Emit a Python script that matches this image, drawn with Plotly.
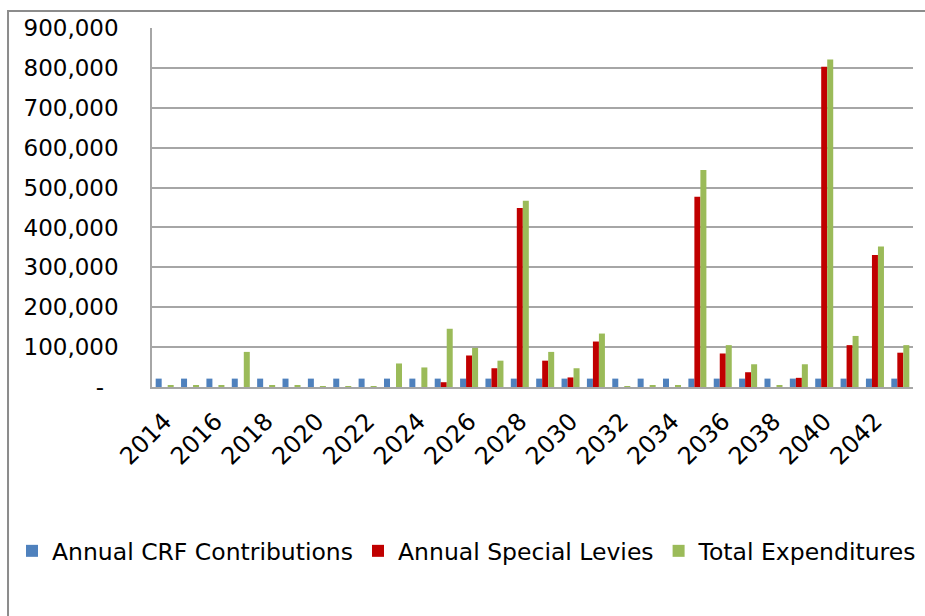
import plotly.graph_objects as go

# Reserve fund projection, 2014-2043
years = list(range(2014, 2044))

crf_contributions = [
    21000, 21000, 21000, 21000, 21000, 21000, 21000, 21000, 21000, 21000,
    21000, 21000, 21000, 21000, 21000, 21000, 21000, 21000, 21000, 21000,
    21000, 21000, 21000, 21000, 21000, 21000, 21000, 21000, 21000, 21000,
]

special_levies = [
    0, 0, 0, 0, 0, 0, 0, 0, 0, 0,
    0, 12000, 79000, 47000, 449000, 66000, 24000, 114000, 0, 0,
    0, 477000, 84000, 37000, 0, 23000, 803000, 105000, 331000, 86000,
]

total_expenditures = [
    3000, 3000, 3000, 88000, 3000, 3000, 2000, 2000, 2000, 59000,
    49000, 146000, 98000, 66000, 467000, 88000, 47000, 134000, 2000, 3000,
    3000, 544000, 105000, 57000, 3000, 57000, 821000, 128000, 352000, 105000,
]

x_tick_years = list(range(2014, 2043, 2))
x_tick_text = [str(y) for y in x_tick_years]

y_tick_vals = [0, 100000, 200000, 300000, 400000, 500000, 600000, 700000, 800000, 900000]
y_tick_text = ["-\u00a0\u00a0", "100,000", "200,000", "300,000", "400,000",
               "500,000", "600,000", "700,000", "800,000", "900,000"]

FONT = "DejaVu Sans"
GRID = "#a6a6a6"

fig = go.Figure()
fig.add_trace(go.Bar(x=years, y=crf_contributions, name="Annual CRF Contributions",
                     marker_color="#4F81BD", marker_line_width=0))
fig.add_trace(go.Bar(x=years, y=special_levies, name="Annual Special Levies",
                     marker_color="#C00000", marker_line_width=0))
fig.add_trace(go.Bar(x=years, y=total_expenditures, name="Total Expenditures",
                     marker_color="#9BBB59", marker_line_width=0))

fig.update_layout(
    width=925, height=616,
    margin=dict(l=152, r=12, t=28, b=229),
    paper_bgcolor="white", plot_bgcolor="white",
    barmode="group", bargap=0.29, bargroupgap=0,
    font=dict(family=FONT, size=22, color="#000000"),
    showlegend=True,
    legend=dict(orientation="h", x=-0.184, y=-0.457, xanchor="left", yanchor="middle",
                font=dict(family=FONT, size=23.5, color="#000000"),
                itemwidth=30, traceorder="normal", bgcolor="rgba(0,0,0,0)"),
    shapes=[
        # chart frame (right and bottom edges run off the canvas)
        dict(type="rect", xref="paper", yref="paper",
             x0=-0.1892, x1=1.1, y0=-0.8, y1=1.0474,
             line=dict(color="#8c8c8c", width=2), fillcolor="rgba(0,0,0,0)", layer="below"),
    ],
)

fig.update_xaxes(
    range=[2013.5, 2043.5],
    tickmode="array", tickvals=x_tick_years, ticktext=x_tick_text,
    tickangle=-45, showgrid=False, zeroline=False,
    showline=True, linecolor=GRID, linewidth=1.5,
    ticks="", ticklabelstandoff=9,
    tickfont=dict(family=FONT, size=24),
)
fig.update_yaxes(
    range=[0, 900000],
    tickmode="array", tickvals=y_tick_vals, ticktext=y_tick_text,
    showgrid=True, gridcolor=GRID, gridwidth=1.5, zeroline=False,
    showline=True, linecolor=GRID, linewidth=1.5,
    ticks="", ticklabelstandoff=27,
    tickfont=dict(family=FONT, size=23),
)

fig.write_html("out.html")
